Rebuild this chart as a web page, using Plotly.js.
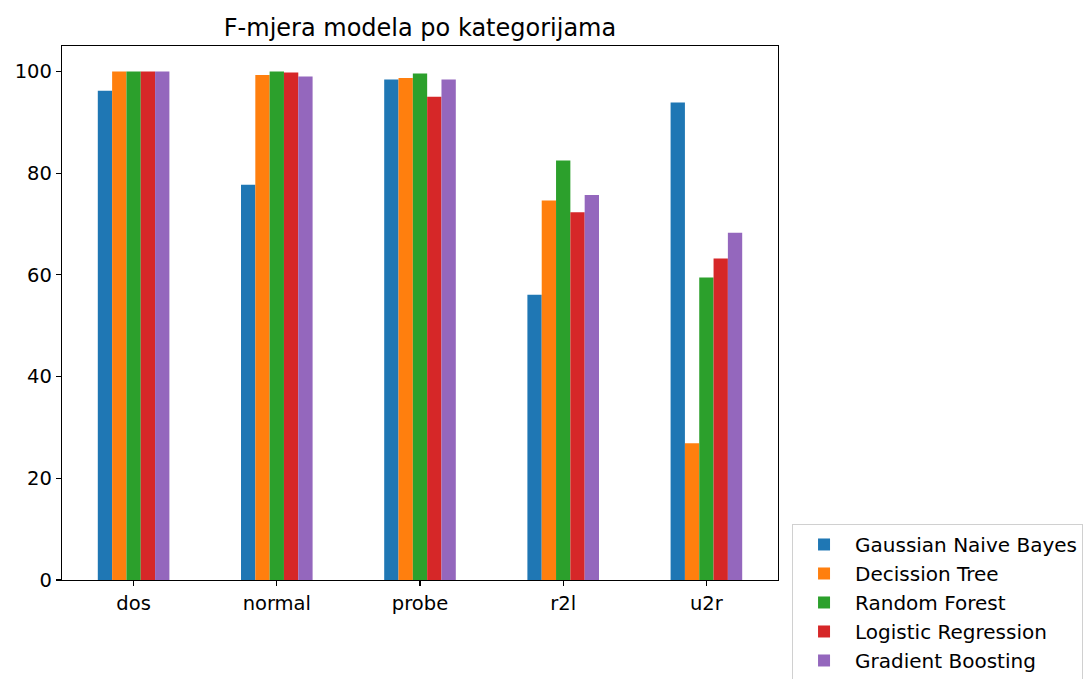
<!DOCTYPE html>
<html>
<head>
<meta charset="utf-8">
<script src="https://cdn.plot.ly/plotly-3.0.1.min.js"></script>
<style>html,body{margin:0;padding:0;background:#fff;}#chart{width:1085px;height:679px;}</style>
</head>
<body>
<div id="chart"></div>
<script>
const categories = ["dos", "normal", "probe", "r2l", "u2r"];
const modelNames = ["Gaussian Naive Bayes", "Decission Tree", "Random Forest", "Logistic Regression", "Gradient Boosting"];
const gaussianNB = [96.2, 77.7, 98.4, 56.1, 93.9];
const decisionTree = [100.0, 99.3, 98.7, 74.6, 26.9];
const randomForest = [100.0, 100.0, 99.6, 82.5, 59.5];
const logisticRegression = [100.0, 99.8, 95.0, 72.3, 63.2];
const gradientBoosting = [100.0, 99.0, 98.4, 75.7, 68.3];
const colors = ["#1f77b4", "#ff7f0e", "#2ca02c", "#d62728", "#9467bd"];
const yTicks = [0, 20, 40, 60, 80, 100];

const series = [gaussianNB, decisionTree, randomForest, logisticRegression, gradientBoosting];
const traces = series.map((vals, i) => ({
  type: "bar",
  name: modelNames[i],
  x: categories,
  y: vals,
  marker: {color: colors[i], line: {width: 0}},
  legendgroup: "g" + i,
  hoverinfo: "x+y+name"
}));

const font = {family: "DejaVu Sans, sans-serif", color: "#000"};
const layout = {
  width: 1085,
  height: 679,
  paper_bgcolor: "#fff",
  plot_bgcolor: "#fff",
  margin: {l: 62, r: 307, t: 46, b: 99, autoexpand: false},
  barmode: "group",
  bargap: 0.5,
  bargroupgap: 0,
  font: Object.assign({size: 19.5}, font),
  title: {
    text: "F-mjera modela po kategorijama",
    font: Object.assign({size: 24}, font),
    x: 0.3871, xanchor: "center", xref: "container",
    y: 0.96, yanchor: "middle", yref: "container"
  },
  xaxis: {
    type: "category",
    range: [-0.5, 4.5],
    showgrid: false,
    zeroline: false,
    showline: true, mirror: true, linecolor: "#000", linewidth: 1.2,
    ticks: "outside", ticklen: 5, tickwidth: 1.2, tickcolor: "#000",
    tickfont: Object.assign({size: 19.5}, font),
    fixedrange: true
  },
  yaxis: {
    range: [0, 105],
    tickvals: yTicks,
    ticktext: yTicks.map(String),
    showgrid: false,
    zeroline: false,
    showline: true, mirror: true, linecolor: "#000", linewidth: 1.2,
    ticks: "outside", ticklen: 5, tickwidth: 1.2, tickcolor: "#000",
    tickfont: Object.assign({size: 19.5}, font),
    fixedrange: true
  },
  showlegend: true,
  legend: {
    x: 1.0196, xanchor: "left", xref: "paper",
    y: 0.1049, yanchor: "top", yref: "paper",
    bgcolor: "#fff",
    bordercolor: "#d0d0d0",
    borderwidth: 1,
    font: Object.assign({size: 20}, font),
    itemwidth: 52,
    tracegroupgap: 5.5,
    traceorder: "normal"
  }
};

Plotly.newPlot("chart", traces, layout, {displayModeBar: false, staticPlot: true});
</script>
</body>
</html>
